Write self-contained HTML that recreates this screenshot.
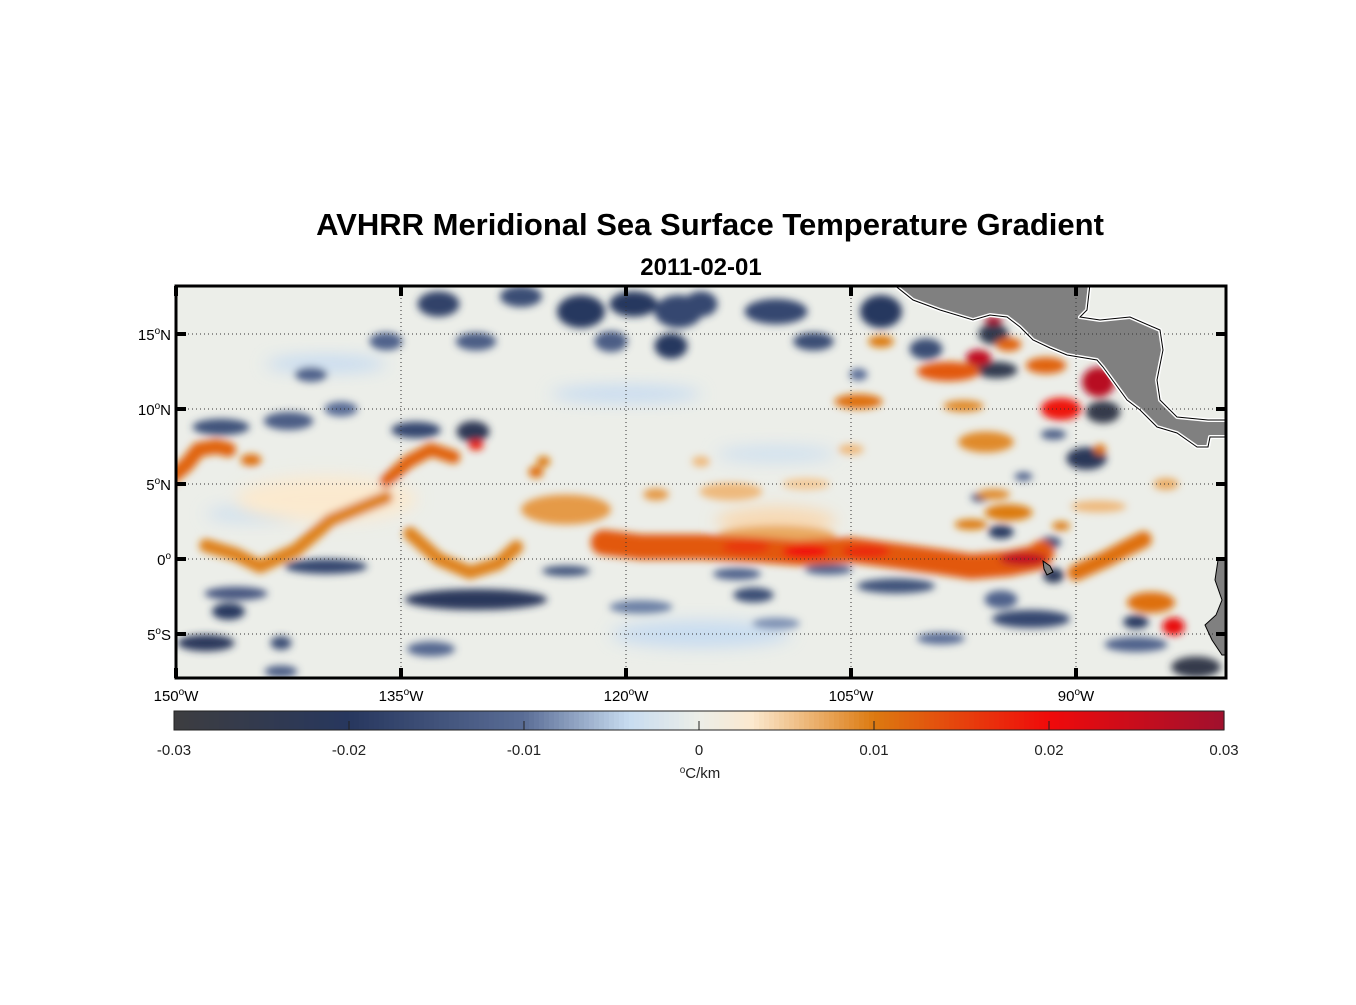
<!DOCTYPE html>
<html><head><meta charset="utf-8">
<style>
html,body{margin:0;padding:0;background:#fff;}
body{width:1356px;height:1000px;overflow:hidden;font-family:"Liberation Sans",Arial,sans-serif;}
svg text{font-family:"Liberation Sans",Arial,sans-serif;}
</style></head>
<body>
<svg id="chart" width="1356" height="1000" viewBox="0 0 1356 1000" xmlns="http://www.w3.org/2000/svg">
  <defs>
    <clipPath id="plotclip"><rect x="176" y="286" width="1050" height="392"/></clipPath>
    <filter id="blur" x="-50%" y="-50%" width="200%" height="200%"><feGaussianBlur stdDeviation="3.8"/></filter>
    <filter id="blur2" x="-50%" y="-50%" width="200%" height="200%"><feGaussianBlur stdDeviation="7"/></filter>
  </defs>
  <text x="710" y="235" text-anchor="middle" font-size="31" font-weight="bold" fill="#000">AVHRR Meridional Sea Surface Temperature Gradient</text>
  <text x="701" y="275" text-anchor="middle" font-size="24" font-weight="bold" fill="#000">2011-02-01</text>
  <rect x="176" y="286" width="1050" height="392" fill="#eceee9"/>
  <g id="field" clip-path="url(#plotclip)"></g>
  <g id="land" clip-path="url(#plotclip)"></g>
  <g id="grid"></g>
  <rect x="176" y="286" width="1050" height="392" fill="none" stroke="#000" stroke-width="3"/>
  <g id="axes"></g>
  <g id="cbar"></g>
</svg>
<script>
// ---- data ----
const lonTicks = [-150, -135, -120, -105, -90];
const lonTickLabels = ["150", "135", "120", "105", "90"];
const latTicks = [15, 10, 5, 0, -5];
const latTickLabels = ["15", "10", "5", "0", "5"];
const latTickHemi = ["N", "N", "N", "", "S"];
const cbarTicks = [-0.03, -0.02, -0.01, 0, 0.01, 0.02, 0.03];
const cbarTickLabels = ["-0.03", "-0.02", "-0.01", "0", "0.01", "0.02", "0.03"];
const cmapVals = [-0.03, -0.02, -0.01, -0.004, 0, 0.003, 0.01, 0.02, 0.03];
const cmapCols = ["#3d3d40", "#27375e", "#5a6d96", "#c8dcf0", "#eceee8", "#fbe9cf", "#dc7a10", "#f00a0a", "#a0102e"];
// blob features: lon, lat, width(deg), height(deg), gradient value
const blobLon = [-140,-120,-110,-145,-115,-132.5,-127,-123,-119.5,-116.5,-121,-117,-136,-130,-141,-147,-142.5,-139,-134,-130.2,-115,-110,-107.5,-103,-100,-104.5,-95.5,-95.3,-88.2,-91.5,-89.3,-93.5,-96.4,-95,-91.7,-140,-146,-146.5,-148,-143,-130,-124,-119,-133,-143,-112.6,-111.5,-106.5,-102,-93,-95,-110,-91.5,-86,-86,-82,-99,
  -110,-140,-110,-130,-124,-145,-126,-125.5,-118,-115,-103,-98.5,-96.5,-95.5,-94.5,-92,-104.5,-97.5,-91,-88.5,-96,-88.4,-105,-113,-108,-95.5,-94.5,-97,-91,-88.5,-84,-85,-83.5];
const blobLat = [13,11,7,3,-5,17,17.5,16.5,17,16.5,14.5,14.2,14.5,14.5,12.3,8.8,9.2,10,8.6,8.5,17,16.5,14.5,16.5,14,12.3,15,12.6,9.8,8.3,6.7,5.5,4.1,1.8,1.1,-0.5,-2.3,-3.5,-5.6,-5.6,-2.7,-0.8,-3.2,-6,-7.5,-1,-2.4,-0.7,-1.8,-4,-2.7,-4.3,-1.1,-4.2,-5.7,-7.2,-5.3,
  2.5,4,1.5,7.6,3.3,6.6,5.8,6.5,4.3,6.5,14.5,12.5,13.4,15.9,14.3,12.9,10.5,10.2,10,11.8,7.8,7.3,7.3,4.5,5,4.3,3.1,2.3,2.2,3.5,5,-2.9,-4.5];
const blobW = [8,10,8,6,12,2.8,2.8,3.2,3.2,3.2,2.2,2.2,2.2,2.7,2.2,3.8,3.3,2.2,3.3,2.2,2.2,4.2,2.7,2.8,2.2,1.2,2,2.8,2.3,1.7,2.7,1.2,1.2,1.7,1.4,5.5,4.2,2.2,3.8,1.4,9.5,3.2,4.2,3.2,2.2,3.2,2.7,3.2,5.2,5.2,2.2,3.2,1.4,1.7,4.2,3.3,3.2,
  8,12,8,1,6,1.4,1,0.9,1.7,1.2,1.7,4.2,1.7,1.2,1.7,2.7,3.2,2.7,2.7,2.2,3.7,0.8,1.7,4.2,3.2,2.2,3.2,2.2,1.2,3.7,1.7,3.2,1.5];
const blobH = [1.2,1.2,1.2,1.2,1.8,1.7,1.4,2.2,1.7,2.2,1.4,1.7,1.2,1.2,1,1.1,1.2,1,1.1,1.4,1.7,1.7,1.2,2.2,1.4,0.8,1.4,1.1,1.5,0.7,1.5,0.6,0.6,0.9,0.8,1,0.9,1.1,1.1,0.9,1.4,0.7,0.9,1,0.8,0.8,1,0.7,1,1.2,1.2,0.8,1,0.9,1,1.4,0.8,
  2,3,1.5,0.7,2,0.8,0.8,0.7,0.8,0.7,0.8,1.3,1.1,0.6,0.9,1.1,1,0.8,1.5,2,1.4,0.7,0.7,1.2,0.8,0.7,1.1,0.7,0.6,0.8,0.8,1.4,1.2];
const blobVal = [-0.004,-0.004,-0.003,-0.003,-0.004,-0.018,-0.016,-0.02,-0.02,-0.017,-0.013,-0.02,-0.012,-0.013,-0.012,-0.015,-0.013,-0.01,-0.017,-0.023,-0.017,-0.017,-0.016,-0.02,-0.016,-0.01,-0.025,-0.025,-0.026,-0.013,-0.022,-0.012,-0.015,-0.02,-0.015,-0.017,-0.014,-0.02,-0.021,-0.016,-0.021,-0.015,-0.009,-0.011,-0.013,-0.012,-0.016,-0.012,-0.015,-0.017,-0.012,-0.008,-0.022,-0.02,-0.012,-0.026,-0.01,
  0.004,0.003,0.007,0.018,0.008,0.011,0.011,0.01,0.008,0.006,0.01,0.013,0.026,0.029,0.012,0.012,0.011,0.009,0.019,0.027,0.009,0.011,0.006,0.006,0.005,0.009,0.01,0.01,0.01,0.006,0.007,0.011,0.021];
// frontal bands: polyline points (lon,lat), value, width(deg)
const bandLon = [[-148,-146,-144.4,-142,-139.7,-137,-136],[-134.4,-132.5,-130.4,-128.5,-127.3],[-150.5,-149.3,-148.5,-147.3,-146.5],[-136,-134.5,-133,-131.5],
  [-121.5,-119,-115,-111,-108.5,-105,-102,-99,-97,-94.5,-92.6,-92.3],[-90,-88,-86.5,-85.5]];
const bandLat = [[0.9,0.3,-0.5,0.6,2.6,3.7,4.1],[1.7,0,-0.9,-0.3,0.8],[5.3,6.3,7.3,7.5,7.3],[5.2,6.5,7.3,6.8],
  [1.1,0.8,0.8,0.6,0.4,0.6,0.2,-0.2,-0.5,-0.3,0.1,0.4],[-0.9,0,0.8,1.3]];
const bandVal = [0.0095, 0.0095, 0.012, 0.012, 0.013, 0.011];
const bandW = [0.9, 0.9, 1.0, 0.9, 1.7, 1.1];
// strong peaks on the equatorial front
const peakLon = [-112, -108, -104, -93.5];
const peakLat = [0.8, 0.5, 0.5, 0];
const peakVal = [0.016, 0.02, 0.017, 0.026];

// ---- scales ----
const X0 = 176, Y0 = 559, PPD = 15;
const xS = lon => X0 + (lon + 150) * PPD;
const yS = lat => Y0 - lat * PPD;
function hex(c){return [parseInt(c.slice(1,3),16),parseInt(c.slice(3,5),16),parseInt(c.slice(5,7),16)];}
function cmap(v){
  if (v <= cmapVals[0]) return cmapCols[0];
  for (let i=1;i<cmapVals.length;i++){
    if (v <= cmapVals[i]){
      const t=(v-cmapVals[i-1])/(cmapVals[i]-cmapVals[i-1]);
      const a=hex(cmapCols[i-1]), b=hex(cmapCols[i]);
      return `rgb(${a.map((x,k)=>Math.round(x+(b[k]-x)*t)).join(',')})`;
    }
  }
  return cmapCols[cmapCols.length-1];
}
const NS = "http://www.w3.org/2000/svg";
function mk(tag, attrs, parent){const e=document.createElementNS(NS,tag);for(const k in attrs)e.setAttribute(k,attrs[k]);parent.appendChild(e);return e;}

// ---- field ----
const field = document.getElementById('field');
const gBlur = mk('g',{filter:'url(#blur)'},field);
blobLon.forEach((lon,i)=>{
  const el = mk('ellipse',{cx:xS(lon),cy:yS(blobLat[i]),rx:blobW[i]*PPD/2,ry:blobH[i]*PPD/2,fill:cmap(blobVal[i]),filter:Math.abs(blobVal[i])<0.005?'url(#blur2)':''},gBlur);
  
  
});
bandLon.forEach((lons,b)=>{
  const pts = lons.map((lon,j)=>xS(lon)+','+yS(bandLat[b][j])).join(' ');
  const el = mk('polyline',{points:pts,fill:'none',stroke:cmap(bandVal[b]),'stroke-width':bandW[b]*PPD,'stroke-linecap':'round','stroke-linejoin':'round'},gBlur);
  
  
});
peakLon.forEach((lon,i)=>{
  const el = mk('ellipse',{cx:xS(lon),cy:yS(peakLat[i]),rx:1.6*PPD,ry:0.45*PPD,fill:cmap(peakVal[i])},gBlur);
  
  
});

// ---- land ----
const land = document.getElementById('land');
const landPts = "893,284 913,300 940,310 973,320 990,315 1007,317 1020,327 1033,340 1050,348 1067,355 1097,360 1103,367 1127,400 1140,410 1157,427 1177,433 1197,447 1208,447 1210,437 1230,437 1230,420 1208,420 1177,417 1160,400 1157,380 1163,350 1160,330 1130,317 1100,320 1080,317 1087,310 1090,284";
const ca = mk('polygon',{points:landPts,fill:'#808080',stroke:'#fff','stroke-width':4,'stroke-linejoin':'round'},land);


mk('polygon',{points:landPts,fill:'none',stroke:'#000','stroke-width':1},land);
const sa = mk('polygon',{points:"1230,558 1218,560 1215,580 1222,600 1216,615 1205,625 1212,640 1222,655 1230,655",fill:'#808080',stroke:'#000','stroke-width':1},land);


const gal = mk('polygon',{points:"1043,561 1050,566 1053,572 1047,575 1044,569",fill:'#808080',stroke:'#000','stroke-width':1},land);



// ---- grid & ticks ----
const grid = document.getElementById('grid');
const axes = document.getElementById('axes');
lonTicks.forEach((lon,i)=>{
  const x = xS(lon);
  const gl = mk('line',{x1:x,y1:286,x2:x,y2:678,stroke:'#333','stroke-width':1,'stroke-dasharray':'1,3'},grid);
  
  
  mk('line',{x1:x,y1:286,x2:x,y2:296,stroke:'#000','stroke-width':4},axes);
  mk('line',{x1:x,y1:668,x2:x,y2:678,stroke:'#000','stroke-width':4},axes);
  const t = mk('text',{x:x,y:701,'text-anchor':'middle','font-size':15,fill:'#000'},axes);
  t.innerHTML = lonTickLabels[i]+'<tspan dy="-6" font-size="10">o</tspan><tspan dy="6">W</tspan>';
  
  
});
latTicks.forEach((lat,i)=>{
  const y = yS(lat);
  const gl = mk('line',{x1:176,y1:y,x2:1226,y2:y,stroke:'#333','stroke-width':1,'stroke-dasharray':'1,3'},grid);
  
  
  mk('line',{x1:176,y1:y,x2:186,y2:y,stroke:'#000','stroke-width':4},axes);
  mk('line',{x1:1216,y1:y,x2:1226,y2:y,stroke:'#000','stroke-width':4},axes);
  const t = mk('text',{x:171,y:y+6,'text-anchor':'end','font-size':15,fill:'#000'},axes);
  t.innerHTML = latTickLabels[i]+'<tspan dy="-6" font-size="10">o</tspan><tspan dy="6">'+latTickHemi[i]+'</tspan>';
  
  
});

// ---- colorbar ----
const cbar = document.getElementById('cbar');
const CB_X0 = 174, CB_X1 = 1224, CB_Y = 711, CB_H = 19;
const cbx = v => CB_X0 + (v - cbarTicks[0]) / (cbarTicks[cbarTicks.length-1] - cbarTicks[0]) * (CB_X1 - CB_X0);
const NSEG = 210;
for (let i=0;i<NSEG;i++){
  const v0 = cbarTicks[0] + (cbarTicks[cbarTicks.length-1]-cbarTicks[0])*i/NSEG;
  const v1 = cbarTicks[0] + (cbarTicks[cbarTicks.length-1]-cbarTicks[0])*(i+1)/NSEG;
  mk('rect',{x:cbx(v0),y:CB_Y,width:cbx(v1)-cbx(v0)+0.6,height:CB_H,fill:cmap((v0+v1)/2)},cbar);
}
const cbFrame = mk('rect',{x:CB_X0,y:CB_Y,width:CB_X1-CB_X0,height:CB_H,fill:'none',stroke:'#222','stroke-width':1},cbar);


cbarTicks.forEach((v,i)=>{
  const x = cbx(v);
  if (i>0 && i<cbarTicks.length-1) mk('line',{x1:x,y1:CB_Y+CB_H,x2:x,y2:CB_Y+CB_H-9,stroke:'#222','stroke-width':1},cbar);
  const t = mk('text',{x:x,y:755,'text-anchor':'middle','font-size':15,fill:'#222'},cbar);
  t.textContent = cbarTickLabels[i];
  
  
});
const unit = mk('text',{x:700,y:778,'text-anchor':'middle','font-size':15,fill:'#222'},cbar);
unit.innerHTML = '<tspan font-size="10" dy="-5">o</tspan><tspan dy="5">C/km</tspan>';


</script>
</body></html>
